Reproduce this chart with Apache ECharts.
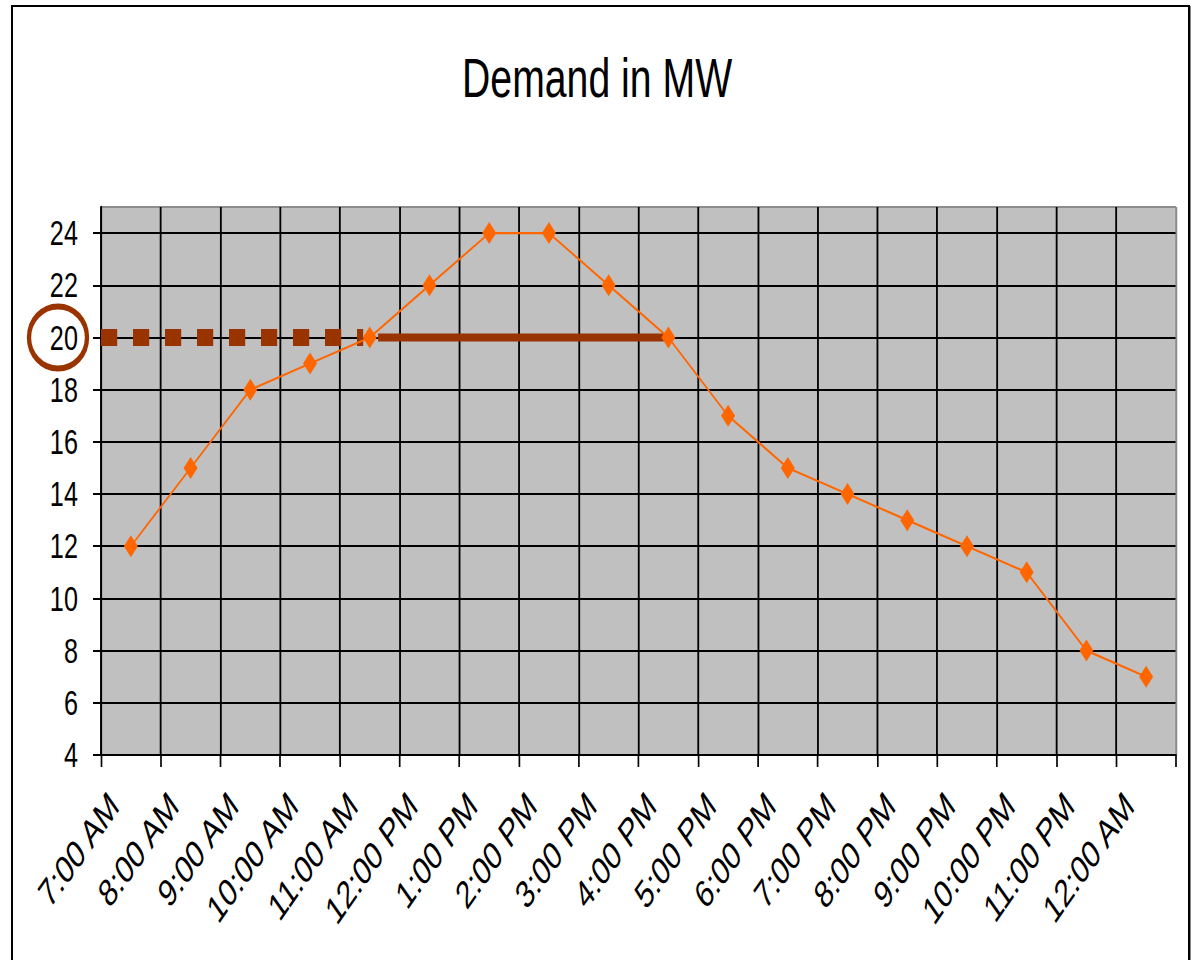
<!DOCTYPE html>
<html>
<head>
<meta charset="utf-8">
<title>Demand in MW</title>
<script src="https://cdn.jsdelivr.net/npm/echarts@6/dist/echarts.min.js"></script>
<style>
  html, body { margin: 0; padding: 0; background: #fff; }
  #page { position: relative; width: 1194px; height: 960px; overflow: hidden; background: #fff; }
  #frame { position: absolute; left: 11px; top: 5px; width: 1179px; height: 1000px;
           border: 2px solid #000; box-sizing: border-box; box-shadow: 1px 1px 0 #888; }
  #chart { position: absolute; left: 0; top: 0; height: 960px; transform-origin: 0 0; }
</style>
</head>
<body>
<div id="page">
  <div id="frame"></div>
  <div id="chart"></div>
</div>
<script>
// Hourly demand, 7:00 AM through midnight
const slots = ['7:00 AM', '8:00 AM', '9:00 AM', '10:00 AM', '11:00 AM', '12:00 PM',
               '1:00 PM', '2:00 PM', '3:00 PM', '4:00 PM', '5:00 PM', '6:00 PM',
               '7:00 PM', '8:00 PM', '9:00 PM', '10:00 PM', '11:00 PM', '12:00 AM'];
const demandMW = [12, 15, 18, 19, 20, 22, 24, 24, 22, 20, 17, 15, 14, 13, 12, 11, 8, 7];

// Value axis range and step (top of the plot sits one unit above the last label)
const yMin = 4;
const yMax = 25;
const yStep = 2;

// 20 MW capacity level: dashed lead-in and the solid span above it,
// measured in hour slots from the left edge of the plot
const limitMW = 20;
const dashedSpan = [0, 4.39];
const solidSpan = [4.64, 9.53];

// The chart is laid out wide and then narrowed horizontally
const squeeze = 0.7;
const innerW = Math.round(1194 / squeeze);
const u = v => v / squeeze;          // horizontal page px -> layout px

const el = document.getElementById('chart');
el.style.width = innerW + 'px';
el.style.transform = 'scaleX(' + squeeze + ')';

const font = '"Liberation Sans", Arial, sans-serif';
const gridLeft = u(101);
const gridRight = innerW - u(1176);

// split lines: black inside the plot, grey where they meet the plot's top/right edge
const ySplitColors = [];
for (let v = yMin; v < yMax; v += yStep) ySplitColors.push('#000');
ySplitColors.push('#8c8c8c');
const xSplitColors = slots.map(() => '#000').concat(['#8c8c8c']);

const chart = echarts.init(el, null, { renderer: 'svg' });
chart.setOption({
  animation: false,
  backgroundColor: 'transparent',
  title: {
    text: 'Demand in MW',
    left: 'center',
    top: 44,
    textStyle: { fontFamily: font, fontSize: 56, fontWeight: 'normal', color: '#000' }
  },
  grid: {
    left: gridLeft, right: gridRight, top: 207, bottom: 205,
    containLabel: false, outerBoundsMode: 'none',
    show: true, backgroundColor: '#c0c0c0', borderColor: '#8c8c8c', borderWidth: 1
  },
  xAxis: [{
    type: 'category',
    data: slots,
    boundaryGap: true,
    axisLine: { show: true, lineStyle: { color: '#000', width: 2 } },
    axisTick: { show: true, length: 12, lineStyle: { color: '#000', width: 2.4 } },
    axisLabel: {
      rotate: 45, margin: 20, padding: [0, 34, 0, 0],
      fontSize: 39, fontFamily: font, color: '#000', interval: 0
    },
    splitLine: { show: true, interval: 0, lineStyle: { color: xSplitColors, width: 2.6 } }
  }, {
    type: 'value',
    min: 0,
    max: slots.length,
    show: false
  }],
  yAxis: {
    type: 'value',
    min: yMin, max: yMax, interval: yStep,
    axisLine: { show: true, lineStyle: { color: '#000', width: 2.6 } },
    axisTick: { show: true, length: u(8), lineStyle: { color: '#000', width: 2 } },
    axisLabel: {
      showMaxLabel: false, margin: 33, fontSize: 36, fontFamily: font, color: '#000'
    },
    splitLine: { show: true, lineStyle: { color: ySplitColors, width: 1.8 } }
  },
  series: [{
    name: 'limit-dashed',
    type: 'line',
    xAxisIndex: 1,
    data: dashedSpan.map(x => [x, limitMW]),
    symbol: 'none',
    silent: true,
    z: 3,
    lineStyle: { color: '#993300', width: 17, type: [u(16.2), u(15.8)], cap: 'butt' }
  }, {
    name: 'limit-solid',
    type: 'line',
    xAxisIndex: 1,
    data: solidSpan.map(x => [x, limitMW]),
    symbol: 'none',
    silent: true,
    z: 3,
    lineStyle: { color: '#993300', width: 8, cap: 'butt' }
  }, {
    name: 'Demand',
    type: 'line',
    xAxisIndex: 0,
    data: demandMW,
    symbol: 'diamond',
    symbolSize: [u(14), 22],
    z: 5,
    itemStyle: { color: '#ff6600' },
    lineStyle: { color: '#ff6600', width: 2.2 }
  }]
});

// Ring drawn around the 20 MW tick label
const ringY = chart.convertToPixel({ yAxisIndex: 0 }, limitMW);
chart.setOption({
  graphic: [{
    type: 'ellipse',
    shape: { cx: gridLeft - u(43), cy: ringY, rx: u(29), ry: 31 },
    style: { fill: 'none', stroke: '#993300', lineWidth: 6.2 },
    z: 10
  }]
});
</script>
</body>
</html>
